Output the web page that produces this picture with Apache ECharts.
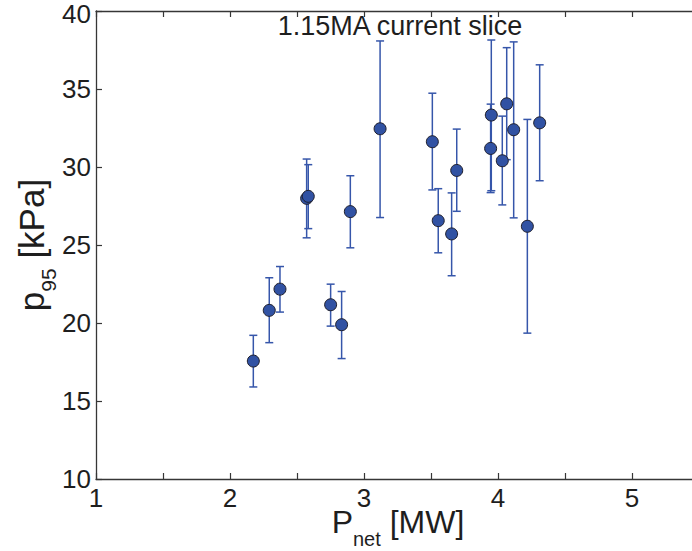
<!DOCTYPE html>
<html><head><meta charset="utf-8">
<script src="https://cdn.jsdelivr.net/npm/echarts@6/dist/echarts.min.js"></script>
<style>html,body{margin:0;padding:0;background:#fff}#c{width:692px;height:551px}</style>
</head><body><div id="c"></div>
<script>
// ---- data ----
const pNet     = [2.174, 2.293, 2.373, 2.572, 2.584, 2.751, 2.833, 2.898, 3.120, 3.510, 3.554, 3.654, 3.692, 3.945, 3.950, 4.032, 4.065, 4.117, 4.219, 4.311];
const p95      = [17.56, 20.81, 22.17, 27.99, 28.12, 21.17, 19.89, 27.14, 32.45, 31.62, 26.56, 25.71, 29.78, 31.19, 33.33, 30.40, 34.05, 32.39, 26.20, 32.83];
const p95Upper = [19.21, 22.90, 23.62, 30.51, 30.15, 22.49, 22.02, 29.44, 38.08, 34.73, 28.61, 28.34, 32.43, 34.03, 38.14, 33.26, 37.65, 38.02, 33.05, 36.55];
const p95Lower = [15.90, 18.74, 20.70, 25.46, 26.05, 19.80, 17.72, 24.82, 26.76, 28.53, 24.50, 23.03, 27.16, 28.36, 28.48, 27.57, 30.47, 26.74, 19.35, 29.12];
const xTickLabels = [1, 2, 3, 4, 5];
const yTickLabels = [10, 15, 20, 25, 30, 35, 40];
const titleText = '1.15MA current slice';

const FONT = '"Liberation Sans", Arial, sans-serif';
const AX = '#363636';
const BLUE = '#3656aa';

const chart = echarts.init(document.getElementById('c'), null, {renderer: 'svg'});

const axisCommon = {
  type: 'value',
  axisLine: {show: true, lineStyle: {color: AX, width: 1.3}},
  axisTick: {show: true, inside: true, length: 6, lineStyle: {color: AX, width: 1.2}},
  splitLine: {show: false}
};

const yMax = yTickLabels[yTickLabels.length - 1];

chart.setOption({
  animation: false,
  backgroundColor: '#fff',
  grid: {left: 96, top: 11, width: 603, height: 468, containLabel: false, outerBoundsMode: 'none'},
  xAxis: [
    Object.assign({}, axisCommon, {
      min: 1, max: 5.5, interval: 0.5, position: 'bottom',
      axisLabel: {show: true, margin: 6, color: '#1e1e1e', fontSize: 26, fontFamily: FONT,
        formatter: v => xTickLabels.includes(v) ? String(v) : ''}
    }),
    Object.assign({}, axisCommon, {
      min: 1, max: 5.5, interval: 0.5, position: 'top',
      axisLabel: {show: false}
    })
  ],
  yAxis: [
    Object.assign({}, axisCommon, {
      min: 10, max: 40, interval: 5, position: 'left',
      axisLabel: {show: true, margin: 5, color: '#1e1e1e', fontSize: 26, fontFamily: FONT,
        formatter: v => !yTickLabels.includes(v) ? '' : (v === yMax ? '{t|' + v + '}' : String(v)),
        rich: {t: {fontSize: 26, fontFamily: FONT, color: '#1e1e1e', padding: [5, 0, 0, 0]}}}
    })
  ],
  graphic: [
    {type: 'text', x: 400, y: 26, z: 10,
     style: {text: titleText, align: 'center', verticalAlign: 'middle', fontSize: 27, fontFamily: FONT, fill: '#1e1e1e'}},
    {type: 'text', x: 398, y: 522, z: 10,
     style: {text: '{m|P}{s|net}{m| [MW]}', align: 'center', verticalAlign: 'middle', fill: '#1e1e1e',
       rich: {
         m: {fontSize: 32, fontFamily: FONT, fill: '#1e1e1e', lineHeight: 36, verticalAlign: 'middle'},
         s: {fontSize: 20, fontFamily: FONT, fill: '#1e1e1e', lineHeight: 54, verticalAlign: 'bottom'}
       }}},
    {type: 'text', x: 31, y: 245, rotation: Math.PI / 2, z: 10,
     style: {text: '{m|p}{s|95}{m| [kPa]}', align: 'center', verticalAlign: 'middle', fill: '#1e1e1e',
       rich: {
         m: {fontSize: 35, fontFamily: FONT, fill: '#1e1e1e', lineHeight: 38, verticalAlign: 'middle'},
         s: {fontSize: 21, fontFamily: FONT, fill: '#1e1e1e', lineHeight: 56, verticalAlign: 'bottom'}
       }}}
  ],
  series: [
    {
      type: 'custom',
      z: 2,
      xAxisIndex: 0, yAxisIndex: 0,
      data: pNet.map((x, i) => [x, p95Lower[i], p95Upper[i]]),
      encode: {x: 0, y: [1, 2]},
      renderItem: function (params, api) {
        const x = api.value(0);
        const lo = api.coord([x, api.value(1)]);
        const hi = api.coord([x, api.value(2)]);
        const w = 4;
        const st = {stroke: BLUE, lineWidth: 1.5};
        return {type: 'group', children: [
          {type: 'line', shape: {x1: lo[0], y1: lo[1], x2: hi[0], y2: hi[1]}, style: st},
          {type: 'line', shape: {x1: lo[0] - w, y1: lo[1], x2: lo[0] + w, y2: lo[1]}, style: st},
          {type: 'line', shape: {x1: hi[0] - w, y1: hi[1], x2: hi[0] + w, y2: hi[1]}, style: st}
        ]};
      }
    },
    {
      type: 'scatter',
      z: 3,
      xAxisIndex: 0, yAxisIndex: 0,
      symbol: 'circle',
      symbolSize: 12,
      data: pNet.map((x, i) => [x, p95[i]]),
      itemStyle: {color: '#3152a3', borderColor: '#1d1d2a', borderWidth: 1, opacity: 1}
    }
  ]
});
</script>
</body></html>
